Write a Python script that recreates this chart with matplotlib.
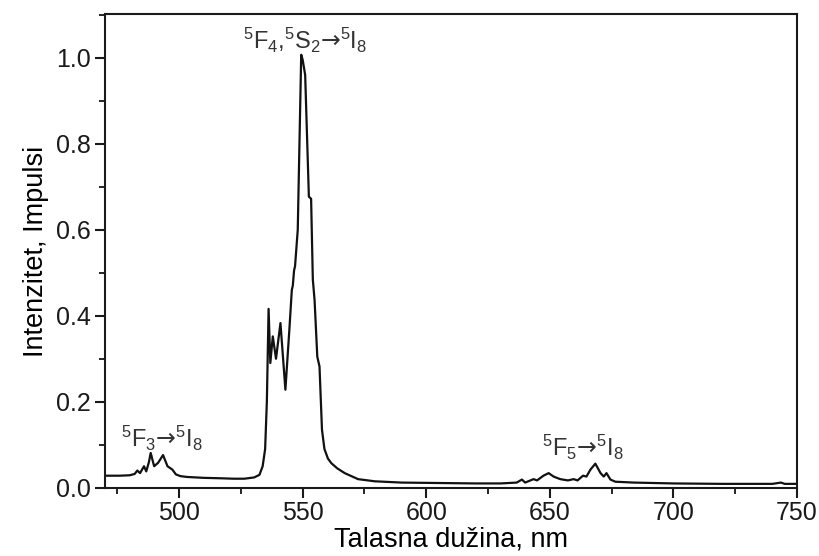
import matplotlib
matplotlib.use('Agg')
from matplotlib import pyplot as plt
from matplotlib.ticker import MultipleLocator

plt.rcParams['font.family'] = ['Liberation Sans', 'DejaVu Sans']
plt.rcParams['mathtext.fontset'] = 'custom'
plt.rcParams['mathtext.rm'] = 'Liberation Sans'
plt.rcParams['mathtext.it'] = 'Liberation Sans:italic'
plt.rcParams['mathtext.sf'] = 'DejaVu Sans'
plt.rcParams['mathtext.default'] = 'regular'

# Emission spectrum (nm, arbitrary intensity).
wavelength = [470.0, 476.0, 480.0, 482.0, 483.1, 484.2, 485.8, 486.7, 487.8, 488.5,
              489.9, 491.5, 493.5, 495.3, 497.3, 498.7, 500.5, 503.4, 510.0, 516.9,
              522.0, 526.4, 530.4, 532.5, 533.8, 534.8, 535.5, 536.2, 536.9, 537.9,
              539.2, 541.0, 543.0, 544.6, 545.6, 546.0, 546.5, 546.9, 548.0, 549.4,
              550.0, 551.0, 552.5, 553.4, 554.1, 554.8, 555.9, 556.8, 557.8, 558.8,
              560.2, 561.6, 564.0, 567.0, 572.4, 579.1, 590.0, 605.0, 620.0, 630.0,
              636.6, 638.7, 640.0, 643.4, 644.8, 647.4, 649.5, 651.5, 654.2, 657.3,
              659.6, 661.2, 663.4, 664.8, 666.4, 668.4, 670.5, 671.8, 672.9, 674.5,
              676.5, 684.0, 700.0, 720.0, 740.0, 743.5, 745.0, 750.0]
intensity = [0.028, 0.028, 0.029, 0.032, 0.040, 0.034, 0.050, 0.038, 0.060, 0.081,
             0.050, 0.058, 0.076, 0.050, 0.042, 0.031, 0.027, 0.025, 0.023, 0.022,
             0.021, 0.021, 0.024, 0.030, 0.050, 0.090, 0.200, 0.416, 0.290, 0.352,
             0.300, 0.383, 0.228, 0.367, 0.460, 0.470, 0.505, 0.515, 0.600, 1.007,
             0.995, 0.960, 0.677, 0.672, 0.484, 0.437, 0.305, 0.282, 0.135, 0.090,
             0.068, 0.057, 0.045, 0.034, 0.020, 0.015, 0.012, 0.011, 0.010, 0.010,
             0.012, 0.019, 0.012, 0.020, 0.017, 0.028, 0.034, 0.026, 0.020, 0.017,
             0.020, 0.017, 0.028, 0.026, 0.042, 0.056, 0.034, 0.026, 0.034, 0.019,
             0.014, 0.012, 0.010, 0.009, 0.009, 0.012, 0.009, 0.009]

labels = [r'$^{5}$F$_{4}$,$^{5}$S$_{2}$$\mathsf{→}$$^{5}$I$_{8}$',
          r'$^{5}$F$_{3}$$\mathsf{→}$$^{5}$I$_{8}$',
          r'$^{5}$F$_{5}$$\mathsf{→}$$^{5}$I$_{8}$']
label_pos = [(551.0, 1.040), (476.5, 0.115), (647.0, 0.093)]
label_ha = ['center', 'left', 'left']

fig = plt.figure(figsize=(8.2, 5.56), dpi=100)
ax = fig.add_axes([0.128, 0.122, 0.844, 0.853])

ax.plot(wavelength, intensity, color='#111111', linewidth=1.6)

for text, (x, y), ha in zip(labels, label_pos, label_ha):
    ax.text(x, y, text, ha=ha, va='center', fontsize=17, color='#333333')

ax.set_xlim(470, 750)
ax.set_ylim(-0.001, 1.102)
ax.xaxis.set_major_locator(MultipleLocator(50))
ax.xaxis.set_minor_locator(MultipleLocator(25))
ax.yaxis.set_major_locator(MultipleLocator(0.2))
ax.yaxis.set_minor_locator(MultipleLocator(0.1))
ax.yaxis.set_major_formatter(plt.FormatStrFormatter('%.1f'))

ax.tick_params(which='major', direction='out', length=7, width=1.5, labelsize=18,
               colors='#1a1a1a')
ax.tick_params(which='minor', direction='out', length=4, width=1.2)
ax.tick_params(axis='x', which='major', pad=2)
for s in ax.spines.values():
    s.set_linewidth(1.5)
    s.set_color('#1a1a1a')

ax.set_xlabel('Talasna dužina, nm', fontsize=19.5, labelpad=1)
ax.set_ylabel('Intenzitet, Impulsi', fontsize=19.5, labelpad=5)

fig.savefig('out.png', dpi=100)
